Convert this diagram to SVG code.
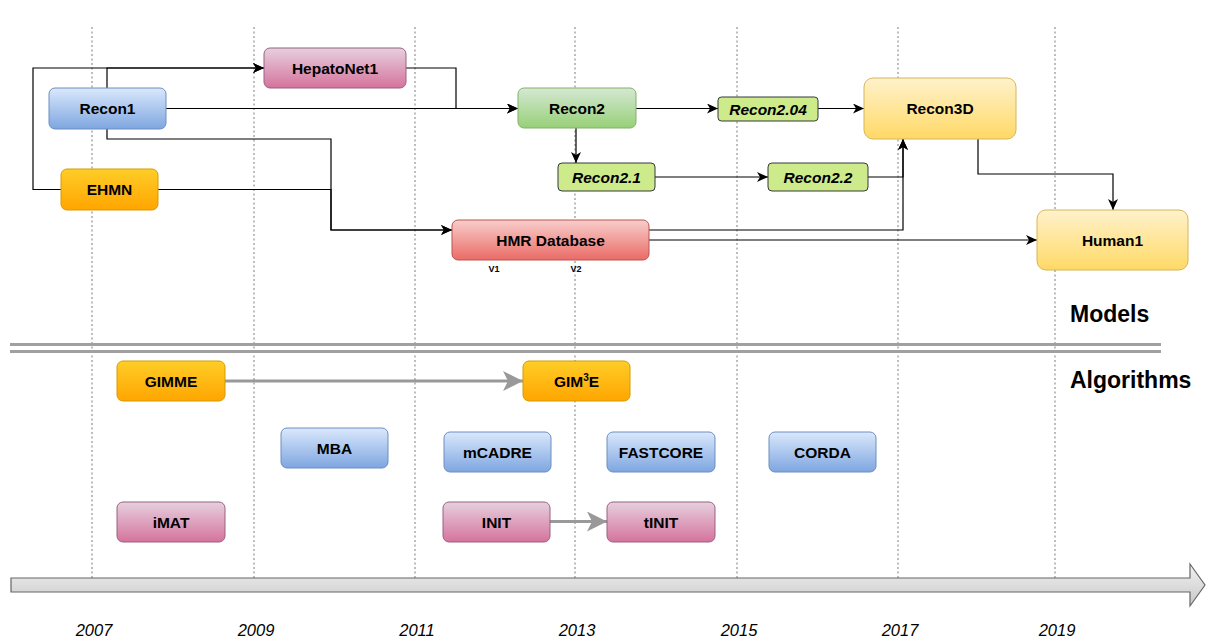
<svg xmlns="http://www.w3.org/2000/svg" width="1206" height="637" viewBox="0 0 1206 637">
  <style>
    .lbl { font-family: "Liberation Sans", Arial, sans-serif; font-weight: bold; font-size: 15.5px; fill: #000; text-anchor: middle; }
    .ital { font-style: italic; }
    .head { font-family: "Liberation Sans", Arial, sans-serif; font-weight: bold; font-size: 23px; fill: #000; }
    .year { font-family: "Liberation Sans", Arial, sans-serif; font-style: italic; font-size: 16.5px; fill: #000; text-anchor: middle; }
    .ver { font-family: "Liberation Sans", Arial, sans-serif; font-weight: bold; font-size: 9px; fill: #000; text-anchor: middle; }
    .grid { stroke: #bdbdbd; stroke-width: 2; stroke-dasharray: 2 2.5; fill: none; }
    .link { stroke: #000; stroke-width: 1.2; fill: none; marker-end: url(#arrowBlack); }
    .glink { stroke: #999; stroke-width: 3; fill: none; marker-end: url(#arrowGrey); }
    .blue { fill: url(#gBlue); stroke: #6c8ebf; }
    .pink { fill: url(#gPink); stroke: #996185; }
    .orange { fill: url(#gOrange); stroke: #d79b00; }
    .red { fill: url(#gRed); stroke: #b85450; }
    .green { fill: url(#gGreen); stroke: #82b366; }
    .yellow { fill: url(#gYellow); stroke: #d6b656; }
    .lime { fill: #cdeb8b; stroke: #36393d; }
  </style>
  <defs>
    <linearGradient id="gBlue" x1="0" y1="0" x2="0" y2="1"><stop offset="0" stop-color="#dae8fc"/><stop offset="1" stop-color="#7ea6e0"/></linearGradient>
    <linearGradient id="gPink" x1="0" y1="0" x2="0" y2="1"><stop offset="0" stop-color="#e6d0de"/><stop offset="1" stop-color="#d5739d"/></linearGradient>
    <linearGradient id="gOrange" x1="0" y1="0" x2="0" y2="1"><stop offset="0" stop-color="#ffcd28"/><stop offset="1" stop-color="#ffa500"/></linearGradient>
    <linearGradient id="gRed" x1="0" y1="0" x2="0" y2="1"><stop offset="0" stop-color="#f8cecc"/><stop offset="1" stop-color="#ea6b66"/></linearGradient>
    <linearGradient id="gGreen" x1="0" y1="0" x2="0" y2="1"><stop offset="0" stop-color="#d5e8d4"/><stop offset="1" stop-color="#97d077"/></linearGradient>
    <linearGradient id="gYellow" x1="0" y1="0" x2="0" y2="1"><stop offset="0" stop-color="#fff2cc"/><stop offset="1" stop-color="#ffd966"/></linearGradient>
    <linearGradient id="gAxis" x1="0" y1="0" x2="0" y2="1"><stop offset="0" stop-color="#f2f2f2"/><stop offset="1" stop-color="#c8c8c8"/></linearGradient>
    <marker id="arrowBlack" markerUnits="userSpaceOnUse" markerWidth="11" markerHeight="10" refX="11" refY="5" orient="auto">
      <path d="M0,0 L11,5 L0,10 L3,5 Z" fill="#000"/>
    </marker>
    <marker id="arrowGrey" markerUnits="userSpaceOnUse" markerWidth="20" markerHeight="20" refX="20" refY="10" orient="auto">
      <path d="M0,0 L20,10 L0,20 L5,10 Z" fill="#999"/>
    </marker>
  </defs>

  <!-- year grid -->
  <g id="grid">
    <line class="grid" x1="92" y1="27" x2="92" y2="578"/>
    <line class="grid" x1="254" y1="27" x2="254" y2="578"/>
    <line class="grid" x1="415" y1="27" x2="415" y2="578"/>
    <line class="grid" x1="575" y1="27" x2="575" y2="578"/>
    <line class="grid" x1="737" y1="27" x2="737" y2="578"/>
    <line class="grid" x1="898" y1="27" x2="898" y2="578"/>
    <line class="grid" x1="1055" y1="27" x2="1055" y2="578"/>
  </g>

  <!-- section divider -->
  <g id="divider" stroke="#a0a0a0" stroke-width="3.2">
    <line x1="10" y1="344.5" x2="1161" y2="344.5"/>
    <line x1="10" y1="351.5" x2="1161" y2="351.5"/>
  </g>
  <text class="head" x="1070" y="322">Models</text>
  <text class="head" x="1070" y="388">Algorithms</text>

  <!-- connectors -->
  <g id="connectors">
    <path class="link" d="M61,189.5 H33 V68 H264"/>
    <path class="link" d="M107,88 V68 H264"/>
    <path class="link" d="M406,68 H456 V108.5 H518"/>
    <path class="link" d="M166,108.5 H518"/>
    <path class="link" d="M107,129 V139 H331 V230 H452"/>
    <path class="link" d="M158,189.5 H331 V230 H452"/>
    <path class="link" d="M636,108.5 H718"/>
    <path class="link" d="M818,108.5 H864"/>
    <path class="link" d="M576,128 V163"/>
    <path class="link" d="M655,177 H768"/>
    <path class="link" d="M868,177 H903 V139"/>
    <path class="link" d="M649,230 H903 V139"/>
    <path class="link" d="M649,240 H1037"/>
    <path class="link" d="M978,139 V174 H1113 V210"/>
    <path class="glink" d="M225,381 H523"/>
    <path class="glink" d="M550,521.5 H607"/>
  </g>

  <!-- model nodes -->
  <g id="hepatonet1"><rect class="pink" x="264" y="48" width="142" height="40" rx="6"/><text class="lbl" x="335" y="73.5">HepatoNet1</text></g>
  <g id="recon1"><rect class="blue" x="49" y="88" width="117" height="41" rx="6"/><text class="lbl" x="107.5" y="114">Recon1</text></g>
  <g id="ehmn"><rect class="orange" x="61" y="169" width="97" height="41" rx="6"/><text class="lbl" x="109.5" y="195">EHMN</text></g>
  <g id="hmr"><rect class="red" x="452" y="220" width="197" height="40" rx="6"/><text class="lbl" x="550.5" y="245.5">HMR Database</text>
    <text class="ver" x="494" y="272">V1</text><text class="ver" x="576" y="272">V2</text></g>
  <g id="recon2"><rect class="green" x="518" y="88" width="118" height="40" rx="6"/><text class="lbl" x="577" y="113.5">Recon2</text></g>
  <g id="recon2-04"><rect class="lime" x="718" y="97" width="100" height="24" rx="3.5"/><text class="lbl ital" x="768" y="114.5">Recon2.04</text></g>
  <g id="recon2-1"><rect class="lime" x="558" y="163" width="97" height="28" rx="4"/><text class="lbl ital" x="606.5" y="182.5">Recon2.1</text></g>
  <g id="recon2-2"><rect class="lime" x="768" y="163" width="100" height="28" rx="4"/><text class="lbl ital" x="818" y="182.5">Recon2.2</text></g>
  <g id="recon3d"><rect class="yellow" x="864" y="78" width="152" height="61" rx="9"/><text class="lbl" x="940" y="114">Recon3D</text></g>
  <g id="human1"><rect class="yellow" x="1037" y="210" width="151" height="60" rx="9"/><text class="lbl" x="1112.5" y="245.5">Human1</text></g>

  <!-- algorithm nodes -->
  <g id="gimme"><rect class="orange" x="117" y="361" width="108" height="40" rx="6"/><text class="lbl" x="171" y="386.5">GIMME</text></g>
  <g id="gim3e"><rect class="orange" x="523" y="361" width="107" height="40" rx="6"/><text class="lbl" x="576.5" y="386.5">GIM<tspan font-size="10" dy="-6">3</tspan><tspan dy="6">E</tspan></text></g>
  <g id="mba"><rect class="blue" x="281" y="428" width="107" height="40" rx="6"/><text class="lbl" x="334.5" y="453.5">MBA</text></g>
  <g id="mcadre"><rect class="blue" x="444" y="432" width="107" height="40" rx="6"/><text class="lbl" x="497.5" y="457.5">mCADRE</text></g>
  <g id="fastcore"><rect class="blue" x="607" y="432" width="108" height="40" rx="6"/><text class="lbl" x="661" y="457.5">FASTCORE</text></g>
  <g id="corda"><rect class="blue" x="769" y="432" width="107" height="40" rx="6"/><text class="lbl" x="822.5" y="457.5">CORDA</text></g>
  <g id="imat"><rect class="pink" x="117" y="502" width="108" height="40" rx="6"/><text class="lbl" x="171" y="527.5">iMAT</text></g>
  <g id="init"><rect class="pink" x="443" y="502" width="107" height="40" rx="6"/><text class="lbl" x="496.5" y="527.5">INIT</text></g>
  <g id="tinit"><rect class="pink" x="607" y="502" width="108" height="40" rx="6"/><text class="lbl" x="661" y="527.5">tINIT</text></g>

  <!-- time axis -->
  <g id="axis">
    <polygon points="11,578 1190,578 1190,564 1205,585 1190,606 1190,592 11,592" fill="url(#gAxis)" stroke="#666" stroke-width="1.2"/>
    <text class="year" x="94" y="636">2007</text>
    <text class="year" x="256" y="636">2009</text>
    <text class="year" x="417" y="636">2011</text>
    <text class="year" x="577" y="636">2013</text>
    <text class="year" x="739" y="636">2015</text>
    <text class="year" x="900" y="636">2017</text>
    <text class="year" x="1057" y="636">2019</text>
  </g>
</svg>
